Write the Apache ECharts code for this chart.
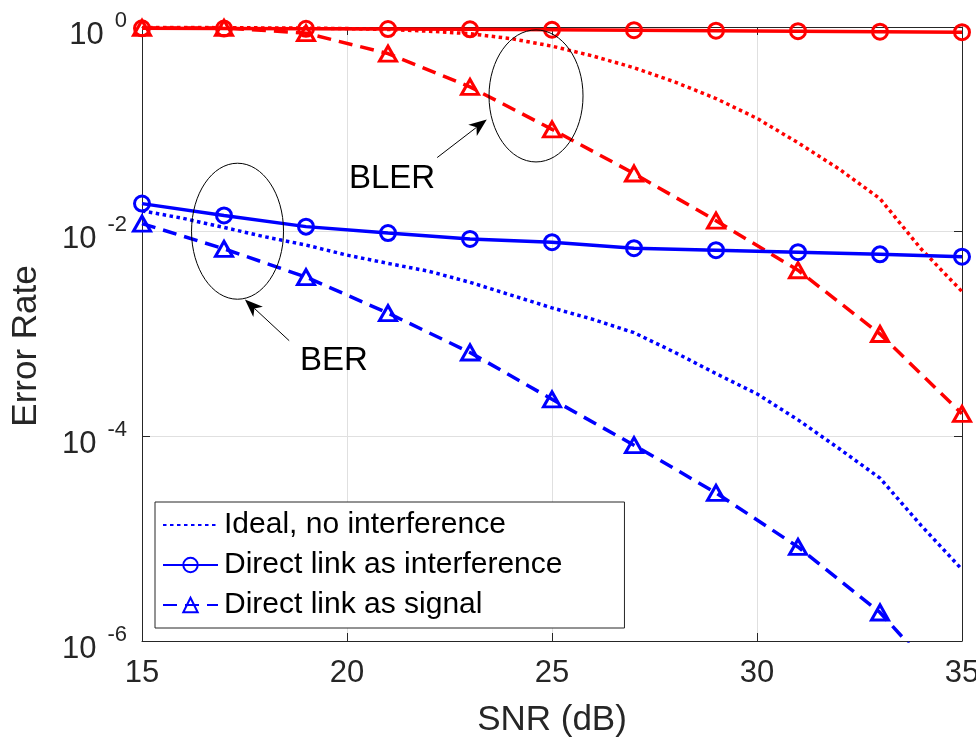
<!DOCTYPE html>
<html>
<head>
<meta charset="utf-8">
<script src="https://cdn.jsdelivr.net/npm/echarts@6/dist/echarts.min.js"></script>
<style>
  html, body { margin: 0; padding: 0; background: #fff; }
  #chart { width: 976px; height: 738px; }
</style>
</head>
<body>
<div id="chart"></div>
<script>
// SNR grid (dB): markers every 2 dB, ideal curves every 1 dB
const snrMarked = [15, 17, 19, 21, 23, 25, 27, 29, 31, 33, 35]
const snrFine = [15, 16, 17, 18, 19, 20, 21, 22, 23, 24, 25, 26, 27, 28, 29, 30, 31, 32, 33, 34, 35]

// BLER curves (red)
const blerIdeal = [0.99, 0.99, 0.985, 0.98, 0.975, 0.965, 0.945, 0.91, 0.86, 0.77, 0.65,
  0.52, 0.40, 0.29, 0.20, 0.128, 0.074, 0.041, 0.021, 0.0068, 0.0026]
const blerInterf = [0.97, 0.965, 0.96, 0.955, 0.95, 0.94, 0.93, 0.92, 0.91, 0.9, 0.89]
const blerSignal = [0.98, 0.98, 0.87, 0.55, 0.26, 0.10, 0.037, 0.0128, 0.0042, 0.001, 0.000166]

// BER curves (blue)
const berIdeal = [0.016, 0.0135, 0.011, 0.0089, 0.0074, 0.0059, 0.0049, 0.0041, 0.0032, 0.0024, 0.0018,
  0.00139, 0.00103, 6.6e-4, 4.1e-4, 2.6e-4, 1.45e-4, 7.6e-5, 3.9e-5, 1.35e-5, 5e-6]
const berInterf = [0.0188, 0.0144, 0.0112, 0.0097, 0.0085, 0.0079, 0.0069, 0.0066, 0.0063, 0.0060, 0.0057]
const berSignal = [0.012, 0.0068, 0.0036, 0.0016, 6.6e-4, 2.3e-4, 8.2e-5, 2.8e-5, 8.3e-6, 1.9e-6, 2.5e-7]

const legendNames = ['Ideal, no interference', 'Direct link as interference', 'Direct link as signal']
const xTicks = [15, 20, 25, 30, 35]

// annotations, in data coords (snr, error rate)
const ellipses = [
  { c: [24.61, 0.212], rx: 47, ry: 66 },
  { c: [17.33, 0.0101], rx: 46, ry: 68 },
]
const arrows = [
  { from: [22.2, 0.053], to: [23.41, 0.125] },
  { from: [18.59, 8.6e-4], to: [17.51, 0.00217] },
]
const notes = [
  { text: 'BLER', at: [21.1, 0.033] },
  { text: 'BER', at: [19.68, 5.4e-4] },
]

const FONT = '"Liberation Sans", Arial, Helvetica, sans-serif'
const RED = '#ff0000'
const BLUE = '#0000ff'
const AXIS = '#262626'
const LW = 3.5

const pair = (xs, ys) => xs.map((x, i) => [x, ys[i]])

function curve(name, xs, ys, color, kind) {
  const s = {
    name,
    type: 'line',
    data: pair(xs, ys),
    lineStyle: { color, width: LW },
    itemStyle: { color: 'rgba(0,0,0,0)', borderColor: color, borderWidth: 3 },
    emphasis: { disabled: true },
    clip: true,
    smooth: false,
  }
  if (kind === 'dot') {
    // no markers: keep a transparent circle so the legend icon stays a bare line
    s.symbol = 'circle'
    s.showSymbol = false
    s.lineStyle.type = [3.5, 3.5]
    s.itemStyle = { color: 'rgba(0,0,0,0)', borderWidth: 0 }
  } else if (kind === 'circ') {
    s.symbol = 'circle'
    s.symbolSize = 15
  } else {
    s.symbol = 'triangle'
    s.symbolSize = [17, 15]
    s.lineStyle.type = [14, 8]
  }
  return s
}

const chart = echarts.init(document.getElementById('chart'), null, { renderer: 'canvas' })

const logLabel = (v) => {
  const e = Math.round(Math.log10(v))
  return '{b|10}{s| }{e|' + e + '}'
}

chart.setOption({
  animation: false,
  textStyle: { fontFamily: FONT },
  grid: { left: 142, top: 27, width: 820, height: 614, outerBoundsMode: 'none', containLabel: false },
  legend: {
    data: legendNames,
    orient: 'vertical',
    left: 155,
    top: 502,
    padding: [8, 62, 8, 7],
    itemWidth: 55,
    itemHeight: 18,
    itemGap: 10,
    backgroundColor: '#fff',
    borderColor: AXIS,
    borderWidth: 1,
    borderRadius: 0,
    selectedMode: false,
    textStyle: { fontFamily: FONT, fontSize: 30, color: '#000', padding: [0, 0, 0, 1] },
  },
  xAxis: [
    {
      type: 'value', min: 15, max: 35, interval: 5,
      axisLine: { lineStyle: { color: AXIS, width: 1 } },
      axisTick: { inside: true, length: 8, lineStyle: { color: AXIS } },
      axisLabel: {
        margin: 17, fontSize: 31, color: AXIS, fontFamily: FONT,
        formatter: (v) => (xTicks.includes(v) ? String(v) : ''),
      },
      splitLine: { show: true, lineStyle: { color: '#e0e0e0', width: 1 } },
      name: 'SNR (dB)', nameLocation: 'middle', nameGap: 62,
      nameTextStyle: { fontSize: 35, color: AXIS, fontFamily: FONT },
    },
    {
      type: 'value', min: 15, max: 35, interval: 5, position: 'top',
      axisLine: { lineStyle: { color: AXIS, width: 1 } },
      axisTick: { inside: true, length: 8, lineStyle: { color: AXIS } },
      axisLabel: { show: false },
      splitLine: { show: false },
    },
  ],
  yAxis: [
    {
      type: 'log', logBase: 10, min: 1e-6, max: 1, interval: 2,
      axisLine: { show: true, lineStyle: { color: AXIS, width: 1 } },
      axisTick: { show: true, inside: true, length: 8, lineStyle: { color: AXIS } },
      minorTick: { show: false },
      axisLabel: {
        margin: 15, color: AXIS, fontFamily: FONT,
        padding: [6, 0, 0, 0],
        formatter: logLabel,
        rich: {
          b: { fontSize: 31, lineHeight: 31, verticalAlign: 'bottom', color: AXIS, fontFamily: FONT },
          s: { width: 11, lineHeight: 41, fontSize: 10 },
          e: { fontSize: 22, lineHeight: 22, verticalAlign: 'top', color: AXIS, fontFamily: FONT },
        },
      },
      splitLine: { show: true, lineStyle: { color: '#e0e0e0', width: 1 } },
      name: 'Error Rate', nameLocation: 'middle', nameGap: 98, nameRotate: 90,
      nameTextStyle: { fontSize: 35, color: AXIS, fontFamily: FONT, padding: [0, 24, 0, 0] },
    },
    {
      type: 'log', logBase: 10, min: 1e-6, max: 1, interval: 2, position: 'right',
      axisLine: { show: true, lineStyle: { color: AXIS, width: 1 } },
      axisTick: { show: true, inside: true, length: 8, lineStyle: { color: AXIS } },
      axisLabel: { show: false },
      splitLine: { show: false },
    },
  ],
  series: [
    curve('BLER ideal', snrFine, blerIdeal, RED, 'dot'),
    curve('BLER interference', snrMarked, blerInterf, RED, 'circ'),
    curve('BLER signal', snrMarked, blerSignal, RED, 'tri'),
    curve(legendNames[0], snrFine, berIdeal, BLUE, 'dot'),
    curve(legendNames[1], snrMarked, berInterf, BLUE, 'circ'),
    curve(legendNames[2], snrMarked, berSignal, BLUE, 'tri'),
  ],
})

// annotation overlay: ellipses, arrows and labels placed from data coords
function drawNotes() {
  const px = (p) => chart.convertToPixel({ gridIndex: 0 }, p)
  const g = []
  ellipses.forEach((el) => {
    const [cx, cy] = px(el.c)
    g.push({
      type: 'ellipse', z: 100,
      shape: { cx, cy, rx: el.rx, ry: el.ry },
      style: { fill: null, stroke: '#000', lineWidth: 1 },
    })
  })
  arrows.forEach((a) => {
    const [x0, y0] = px(a.from)
    const [x1, y1] = px(a.to)
    const len = Math.hypot(x1 - x0, y1 - y0)
    const ux = (x1 - x0) / len
    const uy = (y1 - y0) / len
    const head = 18
    const half = 7
    const notch = 13
    const bx = x1 - ux * head
    const by = y1 - uy * head
    const nx = x1 - ux * notch
    const ny = y1 - uy * notch
    g.push({
      type: 'line', z: 100,
      shape: { x1: x0, y1: y0, x2: nx, y2: ny },
      style: { stroke: '#000', lineWidth: 1 },
    })
    g.push({
      type: 'polygon', z: 100,
      shape: {
        points: [
          [x1, y1],
          [bx - uy * half, by + ux * half],
          [nx, ny],
          [bx + uy * half, by - ux * half],
        ],
      },
      style: { fill: '#000' },
    })
  })
  notes.forEach((n) => {
    const [x, y] = px(n.at)
    g.push({
      type: 'text', z: 100, x, y,
      style: {
        text: n.text, fontSize: 33, fontFamily: FONT, fill: '#000',
        align: 'center', verticalAlign: 'middle',
      },
    })
  })
  chart.setOption({ graphic: g })
}
drawNotes()
</script>
</body>
</html>
